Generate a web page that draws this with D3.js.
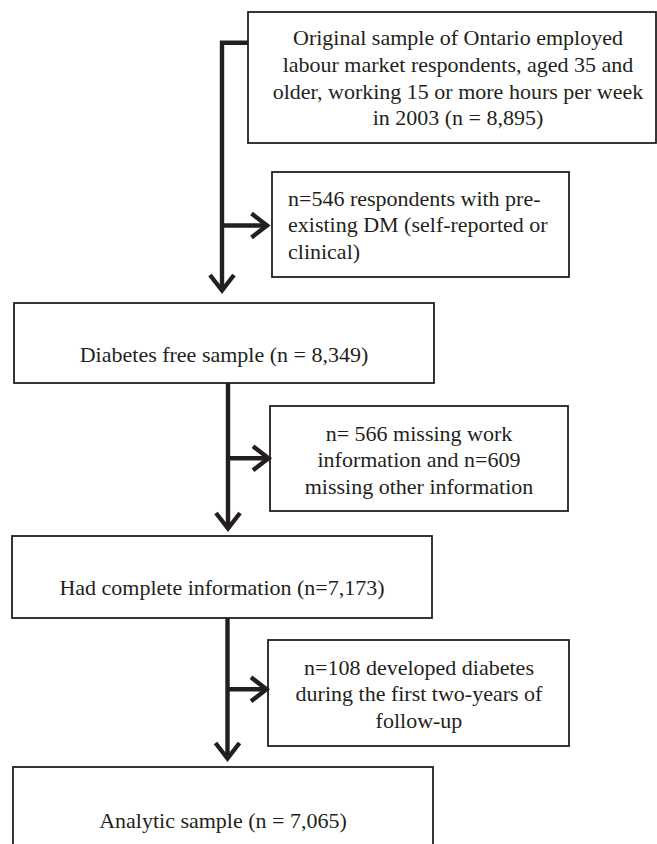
<!DOCTYPE html>
<html>
<head>
<meta charset="utf-8">
<script src="https://cdn.jsdelivr.net/npm/d3@7"></script>
<style>
  html, body { margin: 0; padding: 0; background: #fff; }
  svg { display: block; }
</style>
</head>
<body>
<svg id="chart" width="657" height="844"></svg>
<script>
// ---- content ----
const mainLabels = [
  ["Original sample of Ontario employed", "labour market respondents, aged 35 and", "older, working 15 or more hours per week", "in 2003 (n = 8,895)"],
  ["Diabetes free sample (n = 8,349)"],
  ["Had complete information (n=7,173)"],
  ["Analytic sample (n = 7,065)"]
];
const exclusionLabels = [
  ["n=546 respondents with pre-", "existing DM (self-reported or", "clinical)"],
  ["n= 566 missing work", "information and n=609", "missing other information"],
  ["n=108 developed diabetes", "during the first two-years of", "follow-up"]
];
const mainCounts = [8895, 8349, 7173, 7065];
const excludedCounts = [546, 1175, 108];

// ---- layout (pixel geometry) ----
const mainBoxes = [
  {x0: 248, y0: 12, x1: 656, y1: 143, cx: 458, base: 45, align: "middle"},
  {x0: 14, y0: 303, x1: 434, y1: 383, cx: 224, base: 362, align: "middle"},
  {x0: 12, y0: 536, x1: 432, y1: 618, cx: 222, base: 594.5, align: "middle"},
  {x0: 13, y0: 767, x1: 433, y1: 860, cx: 223, base: 827.5, align: "middle"}
];
const exBoxes = [
  {x0: 272, y0: 172, x1: 569, y1: 277, cx: 288, base: 205.5, align: "start"},
  {x0: 270, y0: 406, x1: 568, y1: 511, cx: 419, base: 440.5, align: "middle"},
  {x0: 268, y0: 640, x1: 569, y1: 746, cx: 419, base: 674.5, align: "middle"}
];
const flows = [
  {x: 222, yStart: 42.7, yTip: 292, yBranch: 225.5, xTip: 268.5, lead: 248},
  {x: 228, yStart: 383, yTip: 530, yBranch: 458.3, xTip: 270, lead: null},
  {x: 227.5, yStart: 618, yTip: 760, yBranch: 689.3, xTip: 268, lead: null}
];
const lineH = 26.8;
const ink = "#231f20";

const svg = d3.select("#chart");
const font = "'Liberation Serif', 'Times New Roman', serif";

function drawBox(b, lines) {
  svg.append("rect")
    .attr("x", b.x0).attr("y", b.y0)
    .attr("width", b.x1 - b.x0).attr("height", b.y1 - b.y0)
    .attr("fill", "#fff").attr("stroke", ink).attr("stroke-width", 1.8);
  const t = svg.append("text")
    .attr("font-family", font).attr("font-size", 22)
    .attr("fill", ink).attr("text-anchor", b.align);
  t.selectAll("tspan").data(lines).join("tspan")
    .attr("x", b.cx)
    .attr("y", (d, i) => b.base + i * lineH)
    .text(d => d);
}

mainBoxes.forEach((b, i) => drawBox(b, mainLabels[i]));
exBoxes.forEach((b, i) => drawBox(b, exclusionLabels[i]));

const g = svg.append("g")
  .attr("stroke", ink).attr("stroke-width", 4.4).attr("fill", "none")
  .attr("stroke-linecap", "butt");

const head = 17, half = 12;
flows.forEach(f => {
  const p = d3.path();
  if (f.lead !== null) {
    p.moveTo(f.lead, f.yStart);
    p.lineTo(f.x - 2.2, f.yStart);
    p.moveTo(f.x, f.yStart - 2.2);
  } else {
    p.moveTo(f.x, f.yStart);
  }
  p.lineTo(f.x, f.yTip - 1);
  // branch
  p.moveTo(f.x, f.yBranch);
  p.lineTo(f.xTip - 1, f.yBranch);
  g.append("path").attr("d", p.toString());
  // heads
  g.append("path")
    .attr("stroke-linejoin", "miter")
    .attr("d", d3.line()([[f.x - half, f.yTip - head], [f.x, f.yTip - 1.5], [f.x + half, f.yTip - head]]));
  g.append("path")
    .attr("stroke-linejoin", "miter")
    .attr("d", d3.line()([[f.xTip - head, f.yBranch - half], [f.xTip - 1.5, f.yBranch], [f.xTip - head, f.yBranch + half]]));
});
</script>
</body>
</html>
